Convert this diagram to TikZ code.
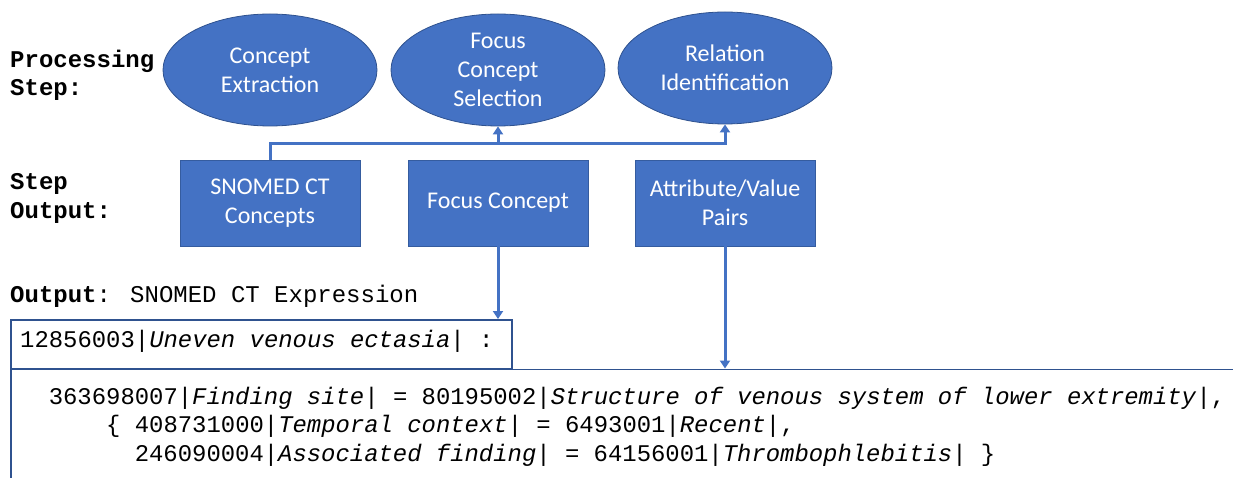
\documentclass[tikz,border=0pt]{standalone}
\usepackage{fontspec}
\setmainfont{Carlito}
\newfontfamily\mono{Liberation Mono}
\usetikzlibrary{shapes.geometric,arrows.meta}
\definecolor{obluefill}{HTML}{4472C4}
\definecolor{obluedraw}{HTML}{2F528F}
\definecolor{oblueline}{HTML}{4472C4}
\tikzset{
  procstep/.style={ellipse, fill=obluefill, draw=obluedraw, line width=0.8pt,
    minimum width=214pt, minimum height=112pt, inner sep=0pt, text=white,
    align=center, font=\fontsize{24}{28.8}\selectfont},
  outbox/.style={rectangle, fill=obluefill, draw=obluedraw!70!obluefill, line width=0.8pt,
    minimum width=180pt, minimum height=86pt, inner sep=0pt, text=white,
    align=center, font=\fontsize{24}{28.8}\selectfont},
  exprbox/.style={rectangle, draw=obluedraw, line width=1.8pt, inner sep=0pt, anchor=north west},
  conn/.style={draw=oblueline, line width=3pt},
  arr/.style={conn, -{Triangle[length=8pt,width=10pt]}},
  lbl/.style={anchor=west, inner sep=0pt, align=left, font=\mono\fontsize{24}{29}\selectfont},
  code/.style={anchor=west, inner sep=0pt, font=\mono\fontsize{23.9}{29}\selectfont}
}
\begin{document}
\begin{tikzpicture}[x=1pt,y=-1pt]
\useasboundingbox (0,0) rectangle (1233,478);
\clip (0,0) rectangle (1233,478);
% labels
\node[lbl] (lproc) at (10,61) {\textbf{Processing}};
\node[lbl] (lstep) at (10,90) {\textbf{Step:}};
\node[lbl] (lstep2) at (10,184) {\textbf{Step}};
\node[lbl] (lout) at (10,213) {\textbf{Output:}};
\node[lbl] (lfinal) at (10,296) {\textbf{Output}: SNOMED CT Expression};
% processing steps
\node[procstep] (E1) at (270,70) {Concept\\Extraction};
\node[procstep] (E2) at (498,70) {Focus\\Concept\\Selection};
\node[procstep] (E3) at (725,68) {Relation\\Identification};
% step outputs
\node[outbox] (B1) at (270,203) {SNOMED CT\\Concepts};
\node[outbox] (B2) at (498,203) {Focus Concept};
\node[outbox] (B3) at (725,203) {Attribute/Value\\Pairs};
% expression boxes
\node[exprbox, minimum width=501pt, minimum height=49pt] (X1) at (10,319) {};
\node[exprbox, minimum width=1260pt, minimum height=140pt] (X2) at (10,368.5) {};
% connectors
\coordinate (bus) at (0,144);
\draw[arr] (B1.north) -- (B1.north |- bus) -| (E3.south);
\draw[arr] (E2.south |- bus) -- (E2.south);
\draw[arr] (B2.south) -- (B2.south |- X1.north);
\draw[arr] (B3.south) -- (B3.south |- X2.north);
% expression text
\node[code] (t0) at (20,341) {12856003|\textit{Uneven venous ectasia}| :};
\node[code] (t1) at (48.6,398) {363698007|\textit{Finding site}| = 80195002|\textit{Structure of venous system of lower extremity}|,};
\node[code] (t2) at (106,426.5) {\{ 408731000|\textit{Temporal context}| = 6493001|\textit{Recent}|,};
\node[code] (t3) at (134.6,455) {246090004|\textit{Associated finding}| = 64156001|\textit{Thrombophlebitis}| \}};
\end{tikzpicture}
\end{document}
